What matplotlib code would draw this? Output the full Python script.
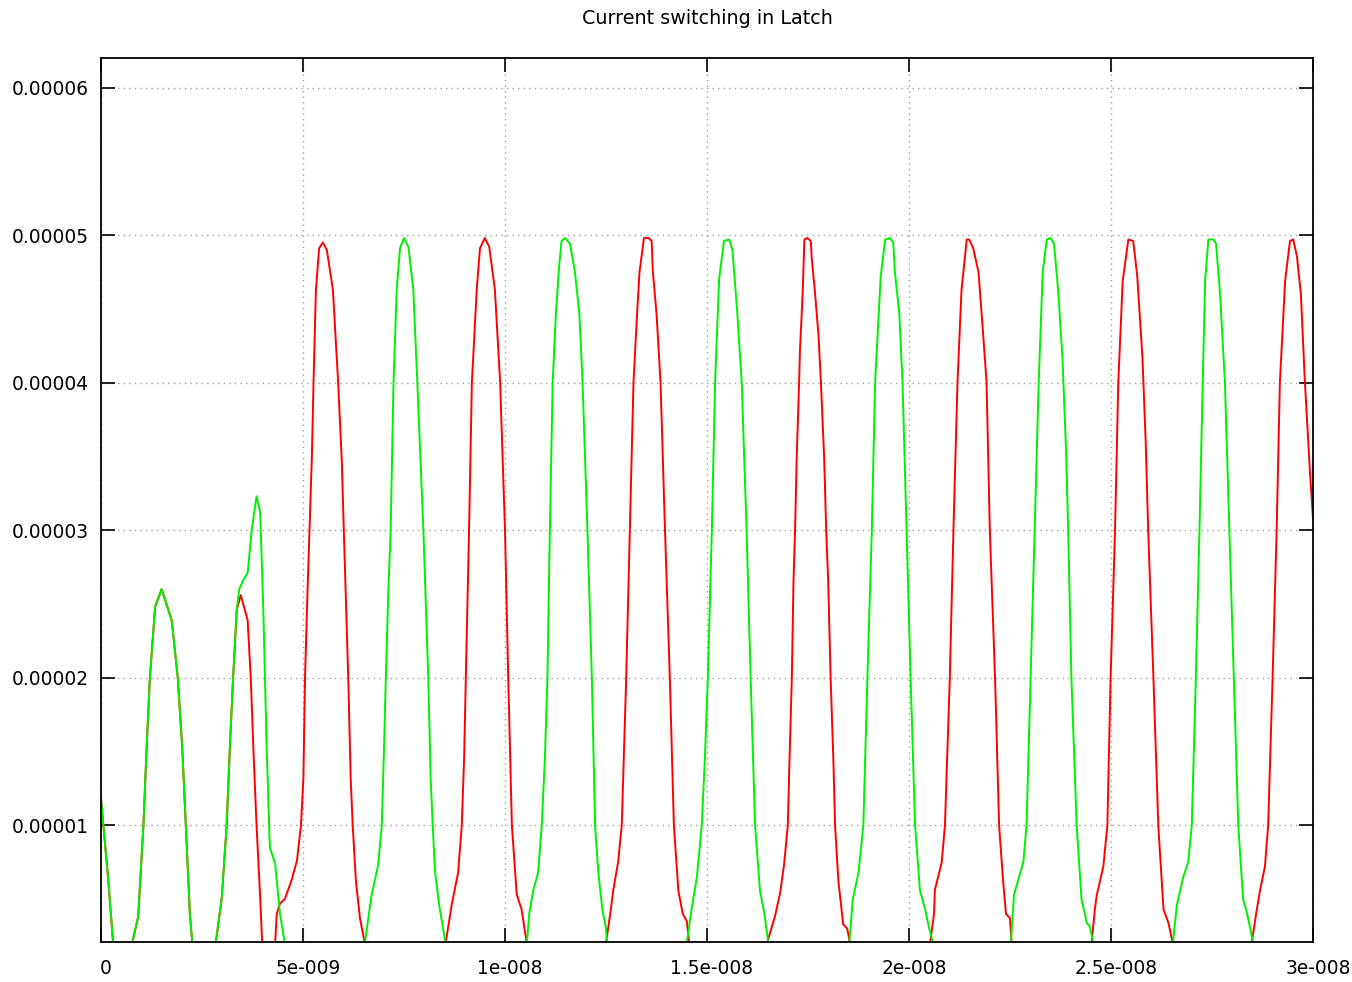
import matplotlib
matplotlib.use("Agg")
import matplotlib.pyplot as plt
from matplotlib.transforms import ScaledTranslation

# time in ns, current in uA
red_t = [0.00, 0.18, 0.30, 0.50, 0.77, 0.92, 1.05, 1.13, 1.21, 1.34, 1.50, 1.75, 1.90, 2.01, 2.10, 2.20, 2.26, 2.50,
         2.84, 2.99, 3.11, 3.19, 3.27, 3.36, 3.46, 3.63, 3.71, 3.77, 3.85, 3.94, 3.99, 4.15,
         4.31, 4.35, 4.43, 4.55, 4.72, 4.85, 4.95, 5.01, 5.05, 5.11, 5.16, 5.22, 5.26, 5.32, 5.40, 5.49, 5.59, 5.74,
         5.87, 5.96, 6.01, 6.12, 6.18, 6.23, 6.31, 6.41, 6.53, 7.50,
         8.53, 8.68, 8.84, 8.93, 8.99, 9.03, 9.11, 9.18, 9.30, 9.38, 9.50, 9.61, 9.75, 9.88, 10.00, 10.08, 10.17,
         10.29, 10.41, 10.54, 11.50,
         12.50, 12.62, 12.68, 12.80, 12.89, 13.00, 13.09, 13.18, 13.27, 13.33, 13.44, 13.55, 13.63, 13.66, 13.75,
         13.85, 13.96, 14.08, 14.18, 14.29, 14.40, 14.50, 14.56, 15.50,
         16.49, 16.56, 16.68, 16.81, 16.91, 17.00, 17.04, 17.10, 17.14, 17.18, 17.22, 17.28, 17.30, 17.37, 17.41,
         17.48, 17.57, 17.59, 17.67, 17.76, 17.82, 17.90, 17.95, 18.00, 18.06, 18.13, 18.17, 18.25, 18.37, 18.47,
         18.54, 19.50,
         20.52, 20.62, 20.64, 20.81, 20.89, 21.01, 21.10, 21.20, 21.30, 21.43, 21.49, 21.59, 21.72, 21.84, 21.92,
         22.00, 22.13, 22.23, 22.33, 22.40, 22.50, 22.54, 23.50,
         24.52, 24.60, 24.65, 24.81, 24.91, 24.99, 25.10, 25.18, 25.29, 25.43, 25.55, 25.65, 25.78, 25.86, 25.92,
         26.05, 26.17, 26.30, 26.42, 26.53, 27.50,
         28.48, 28.61, 28.69, 28.81, 28.89, 29.00, 29.10, 29.18, 29.31, 29.43, 29.51, 29.60, 29.70, 29.80, 29.93,
         30.00]
red_i = [11.8, 6.3, 2.0, 0.0, 2.0, 3.8, 10.0, 15.3, 20.0, 24.8, 26.0, 23.9, 20.0, 15.3, 10.0, 4.0, 2.0, 0.0,
         2.0, 5.1, 10.0, 15.3, 20.0, 24.6, 25.6, 23.9, 19.8, 15.3, 10.0, 5.1, 2.0, 0.0,
         2.0, 4.0, 4.7, 5.0, 6.3, 7.6, 10.0, 13.2, 20.0, 25.7, 30.0, 35.0, 40.0, 46.3, 49.1, 49.5, 49.0, 46.3,
         40.0, 34.7, 30.0, 20.0, 13.2, 10.0, 6.2, 3.7, 2.0, 0.0,
         2.0, 4.6, 6.8, 10.0, 14.7, 20.0, 30.0, 40.0, 46.3, 49.1, 49.8, 49.2, 46.3, 40.0, 30.0, 20.0, 10.0,
         5.3, 4.3, 2.0, 0.0,
         2.0, 4.3, 5.6, 7.5, 10.0, 20.0, 30.0, 40.0, 44.7, 47.5, 49.8, 49.8, 49.6, 47.5, 44.7,
         40.0, 30.0, 20.0, 10.0, 5.6, 4.0, 3.5, 2.0, 0.0,
         2.0, 2.7, 3.8, 5.4, 7.4, 10.0, 14.2, 20.0, 26.5, 30.0, 34.9, 40.0, 42.1, 46.2, 49.7,
         49.8, 49.6, 48.5, 46.2, 43.2, 40.0, 34.9, 30.0, 26.5, 20.0, 14.2, 10.0, 6.3, 3.3, 3.0,
         2.0, 0.0,
         2.0, 4.0, 5.6, 7.5, 10.0, 20.0, 30.0, 40.0, 46.3, 49.7, 49.7, 49.1, 47.5, 43.1, 40.0,
         30.0, 20.0, 10.0, 6.2, 4.0, 3.7, 2.0, 0.0,
         2.0, 4.3, 5.3, 7.2, 10.0, 20.0, 30.0, 40.0, 46.9, 49.7, 49.6, 47.2, 41.6, 35.9, 30.0,
         20.0, 10.0, 4.3, 3.4, 2.0, 0.0,
         2.0, 4.3, 5.6, 7.2, 10.0, 20.0, 30.0, 40.0, 46.9, 49.6, 49.7, 48.6, 46.0, 40.0, 33.7,
         30.8]

green_t = [0.00, 0.18, 0.30, 0.50, 0.77, 0.92, 1.05, 1.13, 1.21, 1.34, 1.50, 1.75, 1.90, 2.01, 2.10, 2.20, 2.26, 2.50,
           2.84, 2.99, 3.11, 3.19, 3.27, 3.36, 3.42, 3.52, 3.63, 3.73, 3.85, 3.94, 4.02, 4.10, 4.18, 4.31, 4.43,
           4.55, 5.50,
           6.53, 6.70, 6.86, 6.95, 7.00, 7.05, 7.11, 7.17, 7.24, 7.32, 7.40, 7.50, 7.61, 7.73, 7.83, 7.90, 7.98,
           8.10, 8.16, 8.21, 8.27, 8.37, 8.53, 9.50,
           10.54, 10.60, 10.70, 10.82, 10.91, 10.99, 11.05, 11.11, 11.18, 11.26, 11.34, 11.40, 11.49, 11.61, 11.73,
           11.84, 11.92, 12.04, 12.15, 12.23, 12.31, 12.41, 12.50, 12.53, 13.50,
           14.50, 14.60, 14.75, 14.87, 14.95, 15.02, 15.12, 15.20, 15.30, 15.42, 15.55, 15.63, 15.75, 15.86, 15.98,
           16.08, 16.19, 16.31, 16.42, 16.52, 17.50,
           18.52, 18.61, 18.75, 18.87, 18.97, 19.08, 19.16, 19.30, 19.41, 19.53, 19.61, 19.65, 19.76, 19.84, 19.94,
           20.04, 20.15, 20.27, 20.40, 20.50, 20.60, 21.50,
           22.52, 22.60, 22.83, 22.91, 23.01, 23.11, 23.21, 23.31, 23.41, 23.51, 23.59, 23.69, 23.80, 23.89, 23.94,
           24.02, 24.15, 24.27, 24.40, 24.48, 24.56, 25.50,
           26.53, 26.63, 26.79, 26.91, 27.00, 27.10, 27.19, 27.27, 27.33, 27.41, 27.54, 27.60, 27.70, 27.82, 27.93,
           28.04, 28.15, 28.27, 28.37, 28.44, 28.52, 30.00]
green_i = [11.8, 6.3, 2.0, 0.0, 2.0, 3.8, 10.0, 15.3, 20.0, 24.8, 26.0, 23.9, 20.0, 15.3, 10.0, 4.0, 2.0, 0.0,
           2.0, 5.1, 10.0, 15.3, 20.0, 24.6, 26.0, 26.6, 27.1, 30.0, 32.3, 31.2, 24.4, 15.3, 8.5, 7.4, 4.0,
           2.0, 0.0,
           2.0, 5.3, 7.3, 10.0, 14.7, 20.0, 25.7, 30.0, 40.0, 46.3, 49.1, 49.8, 49.2, 46.3, 40.0, 35.3, 30.0,
           20.0, 13.2, 10.0, 6.8, 4.6, 2.0, 0.0,
           2.0, 4.0, 5.6, 6.8, 10.0, 14.7, 20.0, 30.0, 40.0, 44.7, 47.9, 49.6, 49.8, 49.4, 47.5,
           44.7, 40.0, 30.0, 20.0, 10.0, 6.8, 4.3, 3.0, 2.0, 0.0,
           2.0, 4.0, 6.5, 10.0, 14.7, 20.0, 30.0, 40.0, 47.0, 49.6, 49.7, 49.0, 44.7, 40.0, 30.0,
           20.0, 10.0, 5.6, 4.0, 2.0, 0.0,
           2.0, 5.0, 6.8, 10.0, 20.0, 30.0, 40.0, 47.2, 49.7, 49.8, 49.5, 47.5, 44.7, 40.0, 30.0,
           20.0, 10.0, 5.6, 4.3, 3.0, 2.0, 0.0,
           2.0, 5.3, 7.5, 10.0, 20.0, 30.0, 40.0, 47.5, 49.7, 49.8, 49.4, 46.3, 41.6, 35.2, 30.0,
           20.0, 10.0, 5.0, 3.4, 3.1, 2.0, 0.0,
           2.0, 4.6, 6.5, 7.5, 10.0, 20.0, 30.0, 40.0, 46.9, 49.7, 49.7, 49.4, 46.0, 40.0, 30.0,
           20.0, 10.0, 5.0, 4.0, 3.1, 2.0, 0.0]

x_ticks = [0, 5e-9, 1e-8, 1.5e-8, 2e-8, 2.5e-8, 3e-8]
x_labels = ["0", "5e-009", "1e-008", "1.5e-008", "2e-008", "2.5e-008", "3e-008"]
y_ticks = [1e-5, 2e-5, 3e-5, 4e-5, 5e-5, 6e-5]
y_labels = ["0.00001", "0.00002", "0.00003", "0.00004", "0.00005", "0.00006"]

plt.rcParams['font.family'] = ['DejaVu Sans']

fig = plt.figure(figsize=(13.52, 9.82), dpi=100)
ax = fig.add_axes([101 / 1352, 40 / 982, 1212 / 1352, 884 / 982])

ax.plot([t * 1e-9 for t in red_t], [i * 1e-6 for i in red_i], color='#ff0000', lw=1.4)
ax.plot([t * 1e-9 for t in green_t], [i * 1e-6 for i in green_i], color='#00f000', lw=1.4)

ax.set_xlim(0, 3e-8)
ax.set_ylim(2.09e-6, 6.2e-5)
ax.set_xticks(x_ticks)
ax.set_xticklabels(x_labels)
ax.set_yticks(y_ticks)
ax.set_yticklabels(y_labels)
ax.tick_params(direction='in', length=10, width=1.2, top=True, right=True, labelsize=13.4, colors='black')
ax.tick_params(axis='x', pad=12)
ax.tick_params(axis='y', pad=9)
for lbl in ax.get_xticklabels():
    lbl.set_transform(lbl.get_transform() + ScaledTranslation(5 / 100, 0, fig.dpi_scale_trans))

ax.grid(True, color='#a0a0a0', linestyle=(0, (1, 3)), linewidth=1)
for s in ax.spines.values():
    s.set_linewidth(1.3)

fig.text(707 / 1352, 1 - 18 / 982, 'Current switching in Latch', ha='center', va='center', fontsize=13.8)

fig.savefig('out.png', dpi=100)
